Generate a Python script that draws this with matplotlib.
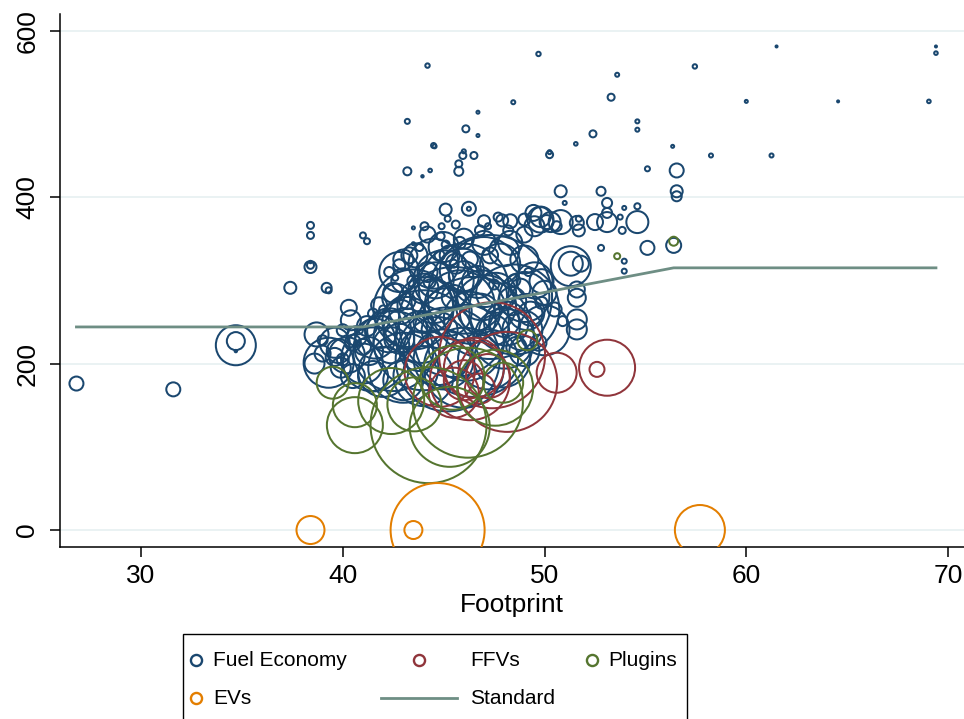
import matplotlib.pyplot as plt
from matplotlib.lines import Line2D
from matplotlib.patches import Rectangle

plt.rcParams['font.family'] = ['Liberation Sans', 'DejaVu Sans']

# fuel economy vehicles: footprint, g/mi, weight (sqrt scale)
fe_x = [26.8, 31.6, 34.7, 34.7, 34.7, 37.4, 38.4, 38.4, 38.4, 38.4, 38.4, 39.2, 39.3, 41.0, 41.2,
        43.2, 48.45, 46.7, 46.1, 46.7, 44.5, 44.55, 46.0, 45.95, 46.5, 45.75, 45.75, 43.2, 44.33, 43.95,
        44.2, 49.7, 53.6, 53.3, 57.45, 54.6, 54.6, 52.4, 51.55, 50.25, 50.25, 56.35, 58.25, 61.25, 55.1,
        56.55, 56.55, 56.55, 60.0, 64.55, 69.05, 61.5, 69.4, 69.4,
        50.8, 52.8, 51.0, 53.1, 53.95, 54.6, 45.1, 46.25, 46.25, 45.2, 43.5, 44.05, 44.85, 43.5, 45.1,
        47.7, 47.0, 47.6, 54.6, 53.85, 53.75, 53.1, 53.1, 52.5, 51.6, 51.7, 50.8, 51.7, 49.8, 49.45,
        50.1, 55.1, 56.4, 52.8, 53.95, 53.95, 51.3, 51.3, 51.8, 51.6, 51.6, 51.6, 51.6, 50.9, 49.85,
        49.85, 49.8, 50.3, 50.6, 49.0, 48.3,
        39.3, 39.6, 38.7, 39.0, 40.3, 40.7, 41.6, 42.3, 41.0, 42.0, 43.2, 44.5, 44.0, 43.0, 42.5,
        43.0, 43.3, 42.8, 43.6, 42.3, 42.6, 43.5, 42.65, 44.2, 45.0, 46.0, 47.0, 48.0, 49.0, 48.3,
        47.8, 49.5, 50.0, 49.0, 50.0, 48.0, 49.0, 45.0, 43.0, 40.5, 39.8, 40.2, 44.0, 46.0, 47.2,
        42.8, 44.5, 46.0, 45.8,
        47.3, 45.5, 44.0, 46.5, 48.5, 42.5, 41.5, 43.5, 45.0, 47.0, 45.2,
        41.5, 42.0, 40.8, 44.8, 45.5, 46.5, 47.5, 48.5, 49.2, 43.8, 46.8, 47.2, 48.2, 49.0, 49.5,
        47.9, 45.6, 44.9, 40.0, 40.5, 41.2, 41.8, 44.2, 45.3, 46.3, 48.8, 49.3, 48.0, 46.8, 44.8,
        43.8, 42.8, 41.0, 45.5, 47.5, 48.6, 49.7, 50.5, 44.0, 43.2, 46.0, 47.3, 45.8, 44.3, 42.0,
        40.0, 39.0, 38.6, 39.9, 41.5, 43.0,
        44.6, 45.9, 46.7, 47.6, 48.4, 44.1, 45.2, 46.3, 47.1, 48.1, 49.1, 43.9, 42.4, 41.3, 40.4,
        39.6, 41.9, 43.1, 44.7, 46.1, 47.9, 48.9, 45.6, 46.9, 42.9]
fe_y = [176, 169, 222, 227, 215, 291, 316, 318, 322, 354, 366, 291, 288, 354, 347,
        491, 514, 502, 482, 474, 462, 461, 455, 450, 450, 440, 431, 431, 432, 425,
        558, 572, 547, 520, 557, 491, 481, 476, 464, 451, 454, 461, 450, 450, 434,
        432, 407, 401, 515, 515, 515, 581, 581, 573,
        407, 407, 393, 393, 387, 389, 385, 386, 386, 374, 363, 365, 353, 344, 343,
        376, 371, 347, 370, 360, 376, 370, 381, 370, 369, 374, 370, 360, 373, 381,
        370, 339, 342, 339, 323, 311, 317, 320, 320, 289, 279, 253, 241, 251, 299,
        273, 376, 370, 365, 373, 371,
        201, 225, 235, 228, 267, 233, 230, 240, 200, 190, 250, 275, 290, 300, 285,
        325, 330, 318, 330, 310, 303, 299, 279, 355, 340, 350, 345, 335, 325, 345,
        320, 300, 285, 280, 240, 230, 215, 205, 195, 185, 215, 210, 185, 195, 205,
        310, 320, 290, 270,
        280, 250, 228, 232, 265, 215, 205, 265, 300, 310, 205,
        260, 250, 240, 330, 320, 310, 295, 300, 310, 340, 360, 365, 360, 355, 365,
        372, 367, 365, 240, 225, 245, 270, 310, 330, 325, 290, 260, 250, 260, 240,
        215, 230, 220, 280, 240, 220, 225, 265, 250, 275, 305, 330, 345, 298, 265,
        205, 212, 200, 195, 185, 180,
        300, 312, 298, 285, 275, 270, 262, 255, 270, 248, 262, 232, 222, 215, 252,
        208, 238, 240, 215, 225, 205, 240, 320, 282, 262]
fe_w = [7, 7, 20, 9, 1.2, 6, 6, 3.5, 1.2, 3.5, 3.5, 5, 3, 3, 3,
        2.5, 2, 1.5, 3.5, 1.5, 2.5, 2, 2, 3.5, 3.5, 3.5, 4.5, 4, 1.8, 1.2,
        2.2, 2.2, 2, 3.5, 2.2, 2, 2, 3.5, 1.8, 3.5, 2, 1.5, 2, 2, 2.5,
        7, 6, 5, 1.5, 1, 1.8, 1, 1, 1.8,
        6, 4.5, 2, 5, 2, 3, 6, 7, 2, 3, 1.5, 4, 4, 1.5, 4,
        4.5, 6, 2, 11, 3.5, 2.5, 10, 5, 8, 7, 3, 12, 6, 13, 8,
        7, 7, 7.5, 3, 2.5, 2.5, 20, 12, 8, 8, 9, 10, 10, 5, 12,
        6, 10, 10, 5, 6, 7,
        25, 15, 12, 5, 8, 10, 20, 22, 20, 25, 25, 22, 15, 12, 10,
        10, 8, 6, 12, 5, 3, 6, 14, 8, 15, 10, 12, 15, 14, 12,
        20, 18, 12, 25, 25, 30, 15, 30, 35, 12, 12, 18, 30, 40, 30,
        20, 25, 45, 35,
        62, 55, 50, 60, 45, 40, 32, 40, 30, 35, 52,
        5, 6, 4, 5, 4, 6, 5, 6, 4, 4, 5, 3, 5, 8, 10,
        6, 4, 3, 6, 8, 10, 8, 10, 10, 8, 10, 12, 15, 20, 18,
        20, 15, 8, 12, 15, 10, 8, 7, 10, 8, 15, 8, 6, 6, 4,
        6, 8, 10, 10, 15, 20,
        18, 22, 16, 20, 14, 28, 24, 26, 30, 22, 18, 26, 18, 14, 10,
        9, 16, 22, 34, 38, 28, 20, 10, 25, 12]

ffv_x = [53.1, 52.6, 50.6, 47.4, 48.15, 46.0, 46.8, 47.2, 45.5, 46.5, 44.8, 46.3]
ffv_y = [195, 193, 189, 210, 178, 180, 170, 185, 165, 195, 190, 180]
ffv_w = [28, 7.5, 20, 53, 50, 20, 15, 22, 25, 30, 35, 40]

plug_x = [44.25, 40.6, 40.6, 39.5, 42.4, 46.2, 49.15, 53.6, 56.4, 47.95, 47.55, 45.45, 43.55, 45.3]
plug_y = [126, 126, 150, 177, 155, 153, 228, 329, 347, 177, 171, 183, 151, 124]
plug_w = [58, 28, 22, 16, 33, 55, 10, 3, 4.5, 20, 38, 32, 27, 40]

ev_x = [38.4, 43.5, 44.7, 57.7]
ev_y = [0, 0, 0, 0]
ev_w = [14, 9, 47, 25]

std_x = [26.8, 41.0, 56.4, 69.4]
std_y = [244, 244, 315, 315]

navy = '#1a476f'
maroon = '#90353b'
green = '#55752f'
orange = '#e37e00'
teal = '#6e8e84'


def area(w):
    # weight -> marker area (pt^2)
    return [(1.44 * v) ** 2 for v in w]


fig = plt.figure(figsize=(9.64, 7.19), dpi=100)
ax = fig.add_axes([60 / 964, 1 - 547 / 719, 1 - 60 / 964, 533 / 719])

for gy in [0, 200, 400, 600]:
    ax.axhline(gy, color='#eaf2f3', lw=1.4, zorder=0)

lw = 1.45
ax.scatter(fe_x, fe_y, s=area(fe_w), facecolors='none', edgecolors=navy, linewidths=lw, zorder=2)
ax.scatter(ffv_x, ffv_y, s=area(ffv_w), facecolors='none', edgecolors=maroon, linewidths=lw, zorder=3)
ax.scatter(plug_x, plug_y, s=area(plug_w), facecolors='none', edgecolors=green, linewidths=lw, zorder=4)
ax.scatter(ev_x, ev_y, s=area(ev_w), facecolors='none', edgecolors=orange, linewidths=lw, zorder=5)
ax.plot(std_x, std_y, color=teal, lw=2.0, zorder=6)

ax.set_xlim(25.985, 70.79)
ax.set_ylim(-20.4, 620)
ax.set_xticks([30, 40, 50, 60, 70])
ax.set_yticks([0, 200, 400, 600])
ax.tick_params(direction='out', length=7, width=1.1, labelsize=19)
ax.tick_params(axis='x', pad=5)
ax.tick_params(axis='y', pad=8)
for lab in ax.get_yticklabels():
    lab.set_rotation(90)
    lab.set_va('center')
ax.set_xlabel('Footprint', fontsize=19, labelpad=4)
for side in ['top', 'right']:
    ax.spines[side].set_visible(False)
for side in ['left', 'bottom']:
    ax.spines[side].set_linewidth(1.1)

# legend box drawn by hand to match the layout
def fx(px):
    return px / 964


def fy(py):
    return 1 - py / 719


fig.add_artist(Rectangle((fx(183), fy(730)), fx(687) - fx(183), fy(634) - fy(730),
                         transform=fig.transFigure, fill=False, edgecolor='black', lw=1.0))
entries = [(196, 660, navy, 'Fuel Economy', 213),
           (419, 660, maroon, 'FFVs', 470),
           (592, 660, green, 'Plugins', 608),
           (196, 698, orange, 'EVs', 213)]
for mx, my, col, txt, tx in entries:
    fig.add_artist(Line2D([fx(mx)], [fy(my)], marker='o', markersize=8, mfc='none',
                          mec=col, mew=1.7, transform=fig.transFigure))
    fig.text(fx(tx), fy(my), txt, fontsize=15, va='center', ha='left')
fig.add_artist(Line2D([fx(381), fx(457)], [fy(698), fy(698)], color=teal, lw=2.0,
                      transform=fig.transFigure))
fig.text(fx(470), fy(698), 'Standard', fontsize=15, va='center', ha='left')

fig.savefig('out.png', dpi=100)
